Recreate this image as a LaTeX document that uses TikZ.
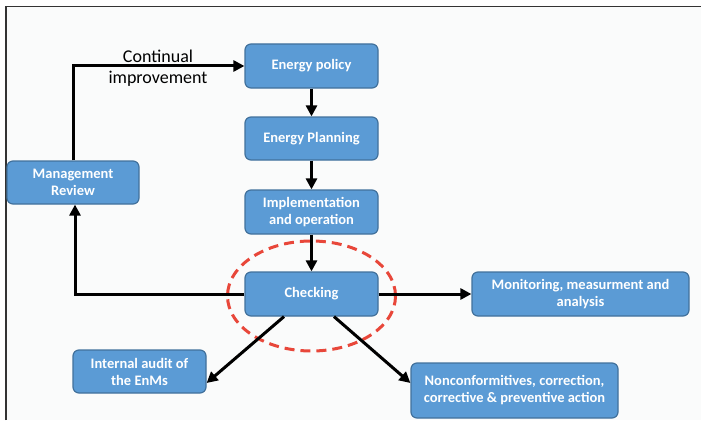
\documentclass[tikz,border=0pt]{standalone}
\usepackage{fontspec}
\setmainfont{Carlito}
\usetikzlibrary{arrows.meta,calc}
\definecolor{boxfill}{HTML}{5B9BD5}
\definecolor{boxedge}{HTML}{41719C}
\definecolor{bgcol}{HTML}{FAFBFB}
\definecolor{ellred}{HTML}{E8473A}
\tikzset{
  stepbox/.style={draw=boxedge, line width=1.2pt, fill=boxfill, rounded corners=6pt,
    text=white, font=\fontsize{14.5}{17}\selectfont\bfseries, align=center, inner sep=0pt},
  flow/.style={line width=3pt, -{Triangle[length=11pt,width=11pt]}},
}
\begin{document}
\begin{tikzpicture}[x=1pt,y=-1pt]
\useasboundingbox (0,0) rectangle (701,428);
\fill[white] (0,0) rectangle (701,428);
\fill[bgcol] (6,6) rectangle (701,420);
\draw[line width=1.5pt, black!80] (6,420) -- (6,6.5) -- (701,6.5);

\node[stepbox, minimum width=133pt, minimum height=44pt] (pol) at (311.5,66) {Energy policy};
\node[stepbox, minimum width=133pt, minimum height=43pt] (plan) at (311.5,138.5) {Energy Planning};
\node[stepbox, minimum width=133pt, minimum height=44pt] (impl) at (311.5,212) {Implementation\\and operation};
\node[stepbox, minimum width=133pt, minimum height=44pt] (chk) at (311.5,294) {Checking};
\node[stepbox, minimum width=217pt, minimum height=44pt] (mon) at (580.5,294) {Monitoring, measurment and\\analysis};
\node[stepbox, minimum width=132pt, minimum height=43pt] (mgmt) at (73,182.5) {Management\\Review};
\node[stepbox, minimum width=133pt, minimum height=43pt] (aud) at (139.5,371.5) {Internal audit of\\the EnMs};
\node[stepbox, minimum width=207pt, minimum height=55pt] (nc) at (514.5,390.5) {Nonconformitives, correction,\\corrective \& preventive action};

\draw[ellred, line width=3pt, dash pattern=on 10pt off 6pt] (311.5,296) ellipse [x radius=84pt, y radius=55pt];

\coordinate (tl) at (73,66);
\coordinate (bl) at (75,294);
\draw[flow] (mgmt.north) -- (tl) -- (pol.west);
\node[font=\fontsize{18}{20.5}\selectfont, align=center] (ci) at (158,68) {Continual\\improvement};
\draw[flow] (pol) -- (plan);
\draw[flow] (plan) -- (impl);
\draw[flow] (impl) -- (chk);
\draw[flow] (chk.west) -- (bl) -- (mgmt.south -| bl);
\draw[flow] (chk.east) -- (mon.west);
\draw[flow] (chk.south -| 284,0) -- (aud.east |- 0,383);
\draw[flow] (chk.south -| 334,0) -- (nc.west |- 0,383);
\end{tikzpicture}
\end{document}
